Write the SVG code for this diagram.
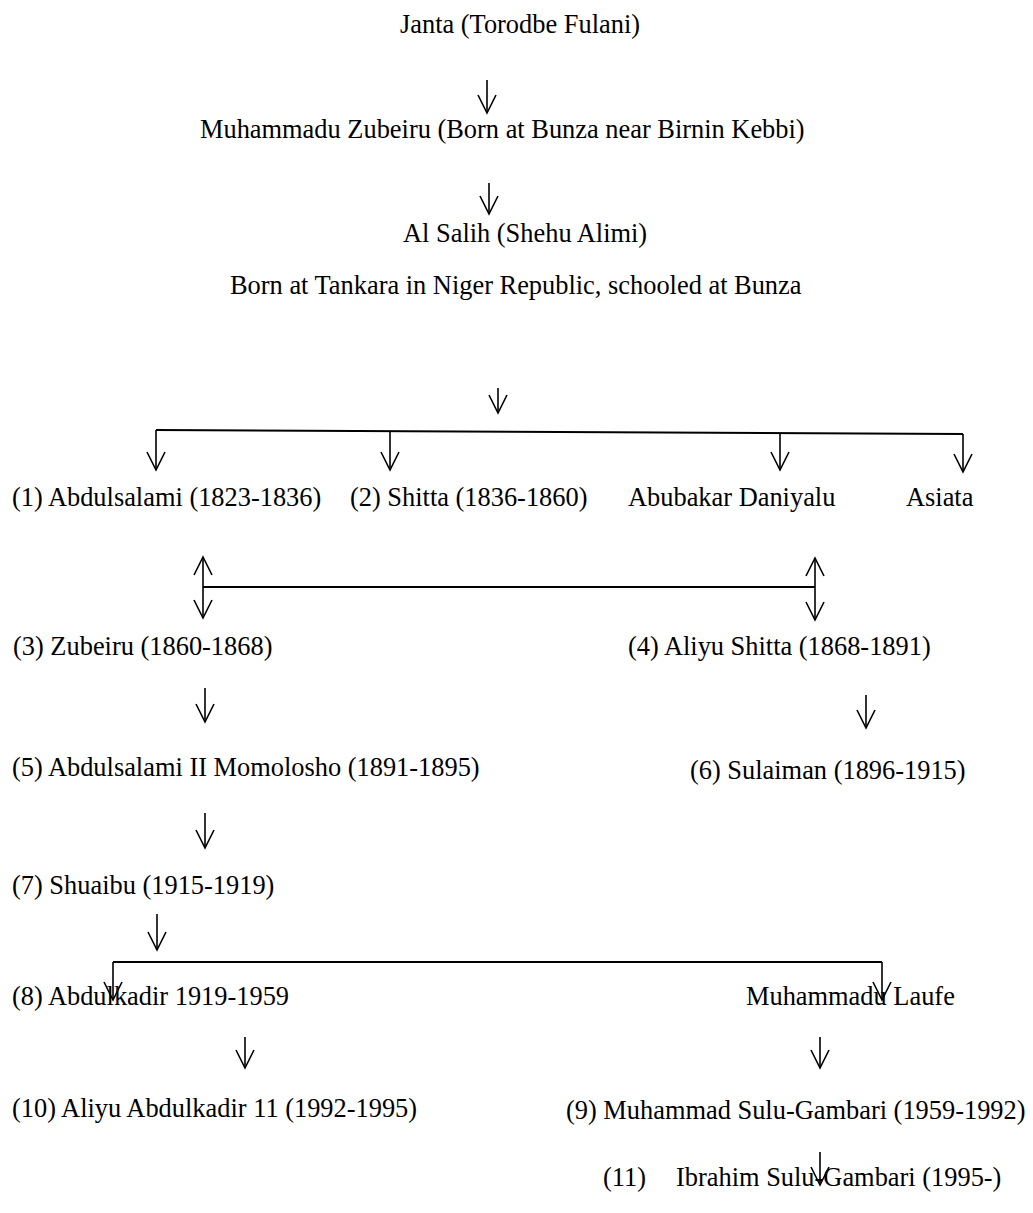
<svg xmlns="http://www.w3.org/2000/svg" width="1033" height="1213" viewBox="0 0 1033 1213">
<style>
text{font-family:"Liberation Serif","Times New Roman",serif;font-size:26.4px;fill:#000}
.c line,.c path{stroke:#000;stroke-width:1.6;fill:none}
.c .bar{stroke-width:2.2}
</style>
<defs>
<marker id="ah" markerUnits="userSpaceOnUse" orient="auto-start-reverse" refX="0" refY="0" markerWidth="20" markerHeight="20" overflow="visible">
<path d="M-18,-9 L0,0 L-18,9" fill="none" stroke="#000" stroke-width="1.6"/>
</marker>
</defs>
<rect width="1033" height="1213" fill="#fff"/>
<g id="n-janta"><text x="400" y="33">Janta (Torodbe Fulani)</text></g>
<g id="n-muhammadu-zubeiru"><text x="200" y="138">Muhammadu Zubeiru (Born at Bunza near Birnin Kebbi)</text></g>
<g id="n-al-salih"><text x="403" y="242">Al Salih (Shehu Alimi)</text><text x="230" y="294">Born at Tankara in Niger Republic, schooled at Bunza</text></g>
<g id="n-abdulsalami"><text x="12" y="506">(1) Abdulsalami (1823-1836)</text></g>
<g id="n-shitta"><text x="350" y="506">(2) Shitta (1836-1860)</text></g>
<g id="n-abubakar"><text x="628" y="506">Abubakar Daniyalu</text></g>
<g id="n-asiata"><text x="906" y="506">Asiata</text></g>
<g id="n-zubeiru"><text x="13" y="655">(3) Zubeiru (1860-1868)</text></g>
<g id="n-aliyu-shitta"><text x="628" y="655">(4) Aliyu Shitta (1868-1891)</text></g>
<g id="n-abdulsalami2"><text x="12" y="776">(5) Abdulsalami II Momolosho (1891-1895)</text></g>
<g id="n-sulaiman"><text x="690" y="779">(6) Sulaiman (1896-1915)</text></g>
<g id="n-shuaibu"><text x="12" y="894">(7) Shuaibu (1915-1919)</text></g>
<g id="n-abdulkadir"><text x="12" y="1005">(8) Abdulkadir 1919-1959</text></g>
<g id="n-laufe"><text x="746" y="1005">Muhammadu Laufe</text></g>
<g id="n-aliyu-abdulkadir"><text x="12" y="1117">(10) Aliyu Abdulkadir 11 (1992-1995)</text></g>
<g id="n-sulu-gambari"><text x="566" y="1119">(9) Muhammad Sulu-Gambari (1959-1992)</text></g>
<g id="n-ibrahim"><text x="603" y="1186">(11)<tspan x="676">Ibrahim Sulu-Gambari (1995-)</tspan></text></g>
<g id="connectors" class="c">
<line x1="487" y1="80" x2="487" y2="113" marker-end="url(#ah)"/>
<line x1="489" y1="183" x2="489" y2="214" marker-end="url(#ah)"/>
<line x1="498" y1="388" x2="498" y2="413" marker-end="url(#ah)"/>
<line class="bar" x1="156" y1="430" x2="963" y2="434"/>
<line x1="156" y1="430" x2="156" y2="470" marker-end="url(#ah)"/>
<line x1="390" y1="431" x2="390" y2="470" marker-end="url(#ah)"/>
<line x1="780" y1="433" x2="780" y2="470" marker-end="url(#ah)"/>
<line x1="963" y1="434" x2="963" y2="472" marker-end="url(#ah)"/>
<line x1="203" y1="557" x2="203" y2="618" marker-start="url(#ah)" marker-end="url(#ah)"/>
<line x1="815" y1="558" x2="815" y2="620" marker-start="url(#ah)" marker-end="url(#ah)"/>
<line class="bar" x1="203" y1="587" x2="815" y2="587"/>
<line x1="205" y1="688" x2="205" y2="722" marker-end="url(#ah)"/>
<line x1="866" y1="695" x2="866" y2="728" marker-end="url(#ah)"/>
<line x1="205" y1="813" x2="205" y2="848" marker-end="url(#ah)"/>
<line x1="157" y1="914" x2="157" y2="950" marker-end="url(#ah)"/>
<path class="bar" d="M113,962 H882"/>
<line x1="113" y1="962" x2="113" y2="1000" marker-end="url(#ah)"/>
<line x1="882" y1="962" x2="882" y2="1000" marker-end="url(#ah)"/>
<line x1="245" y1="1037" x2="245" y2="1068" marker-end="url(#ah)"/>
<line x1="820" y1="1037" x2="820" y2="1068" marker-end="url(#ah)"/>
<line x1="820" y1="1152" x2="820" y2="1185" marker-end="url(#ah)"/>
</g>
</svg>
